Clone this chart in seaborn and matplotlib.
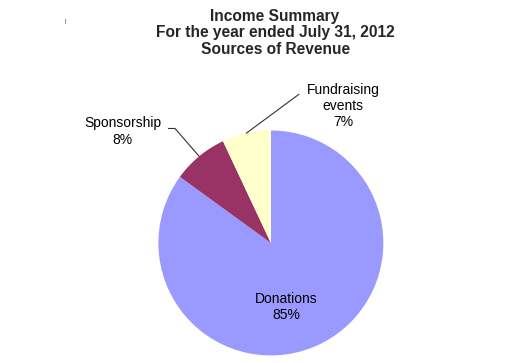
import numpy as np
import matplotlib
matplotlib.use("Agg")
import matplotlib.pyplot as plt
import seaborn as sns

# revenue sources, share of total income (%)
categories = ["Donations", "Sponsorship", "Fundraising\nevents"]
shares = [85, 8, 7]
colors = ["#9999FF", "#993366", "#FFFFCC"]
title_lines = ["Income Summary", "For the year ended July 31, 2012", "Sources of Revenue"]

sns.set_theme(style="white")
plt.rcParams["font.family"] = ["Liberation Sans", "DejaVu Sans"]

fig = plt.figure(figsize=(5.28, 3.63), dpi=100)
ax = fig.add_axes([0.300, 0.0207, 0.426, 0.620])
wedges, _ = ax.pie(shares, colors=colors, startangle=90, counterclock=False,
                   radius=1, wedgeprops=dict(linewidth=0))
ax.set_xlim(-1, 1)
ax.set_ylim(-1, 1)
ax.axis("off")

labels = [f"{c}\n{s}%" for c, s in zip(categories, shares)]

# label placement: (text position, relpos of leader start, leader angle) or None for inside
placement = [
    ((0.133, -0.569), None, None),
    ((-1.32, 0.991), (1.0, 0.6), 131),
    ((0.64, 1.218), (0.0, 0.75), 36.5),
]

for w, lab, (pos, rel, angB) in zip(wedges, labels, placement):
    if rel is None:
        ax.text(pos[0], pos[1], lab, ha="center", va="center", fontsize=10,
                multialignment="center", color="black")
        continue
    mid = np.deg2rad((w.theta1 + w.theta2) / 2)
    edge = (np.cos(mid), np.sin(mid))
    ax.annotate(lab, xy=edge, xytext=pos, ha="center", va="center", fontsize=10,
                multialignment="center", color="black", annotation_clip=False,
                arrowprops=dict(arrowstyle="-", color="#333333", lw=0.8,
                                relpos=rel, shrinkA=3, shrinkB=0,
                                connectionstyle=f"angle,angleA=0,angleB={angB},rad=0"))

fig.text(0.521, 0.910, "\n".join(title_lines), ha="center", va="center",
         fontsize=11.2, fontweight="bold", linespacing=1.12)
fig.text(65 / 528, 1 - 21 / 363, "|", ha="center", va="center", fontsize=4)

fig.savefig("out.png", dpi=100, facecolor="white")
